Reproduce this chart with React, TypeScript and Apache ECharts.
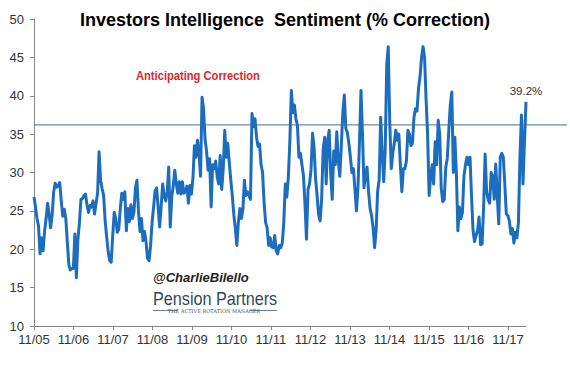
import React, { useEffect, useRef } from "react";
import * as echarts from "echarts";

// Sampled series (every 14 days from 2005-11-01), % of advisors expecting a correction
const START_UTC = Date.UTC(2005, 10, 1);
const STEP_DAYS = 14;
const correctionPct: number[] = [
  26.8, 25.5, 24.0, 23.0, 19.4, 21.5, 19.8, 22.4, 24.0, 26.0,
  24.5, 22.8, 24.5, 27.5, 28.6, 28.1, 28.3, 28.7, 26.3, 24.3,
  25.2, 24.0, 21.0, 18.0, 17.3, 17.5, 17.5, 22.0, 16.3, 21.3,
  23.4, 26.5, 26.6, 27.0, 27.2, 25.8, 24.8, 25.7, 25.5, 26.3,
  24.6, 26.0, 27.3, 32.7, 29.0, 27.9, 27.0, 23.7, 21.6, 19.7,
  18.5, 18.3, 21.8, 24.8, 24.0, 22.2, 22.6, 25.3, 27.3, 26.5,
  27.5, 22.4, 25.3, 23.6, 25.8, 24.0, 24.8, 28.0, 29.0, 25.0,
  22.3, 24.0, 21.1, 22.3, 21.0, 18.8, 18.5, 20.5, 23.5, 25.5,
  27.6, 28.0, 25.5, 22.9, 25.6, 28.5, 27.0, 26.3, 27.5, 30.7,
  22.9, 26.8, 28.3, 30.3, 28.5, 27.3, 28.8, 27.2, 28.8, 27.3,
  27.5, 28.2, 26.0, 28.3, 27.2, 29.3, 33.5, 32.0, 34.2, 32.5,
  29.5, 39.8, 38.3, 34.3, 32.8, 30.3, 31.8, 25.5, 31.0, 30.5,
  31.5, 29.5, 28.5, 32.2, 27.8, 30.5, 35.5, 32.0, 33.8, 31.3,
  29.0, 27.0, 24.5, 22.7, 20.5, 23.5, 25.3, 24.0, 25.2, 29.0,
  27.0, 27.5, 27.0, 26.5, 37.7, 36.0, 37.0, 34.6, 33.4, 33.7,
  31.0, 30.0, 26.0, 23.5, 22.8, 20.5, 21.5, 20.3, 20.2, 21.8,
  19.8, 19.4, 20.5, 20.2, 20.8, 23.5, 28.5, 26.8, 29.4, 34.0,
  40.7, 37.8, 38.8, 37.0, 36.2, 32.0, 32.5, 31.0, 29.6, 25.8,
  21.3, 27.8, 28.5, 30.4, 35.1, 33.3, 29.2, 27.0, 24.5, 23.7,
  26.5, 33.0, 34.6, 28.5, 34.2, 35.5, 29.8, 26.5, 32.8, 31.0,
  35.3, 31.5, 29.5, 33.5, 37.8, 40.1, 35.7, 35.2, 33.8, 32.0,
  30.0, 30.5, 27.8, 25.0, 28.0, 34.0, 40.7, 35.0, 28.0, 29.8,
  30.7, 27.5, 25.3, 24.4, 22.8, 20.2, 22.5, 27.6, 29.0, 37.2,
  32.5, 28.8, 33.0, 44.0, 46.4, 36.5, 30.5, 32.5, 33.8, 35.5,
  34.2, 35.0, 31.0, 27.5, 30.5, 30.5, 31.5, 35.5, 35.0, 33.5,
  33.8, 37.2, 38.3, 38.0, 41.0, 42.5, 45.0, 46.4, 45.0, 39.5,
  35.0, 27.0, 29.5, 31.0, 28.5, 34.0, 31.0, 36.8, 35.0, 28.0,
  26.2, 26.5, 30.7, 31.8, 35.5, 38.8, 40.5, 30.0, 34.6, 30.0,
  22.4, 25.5, 24.0, 24.8, 29.5, 31.0, 32.0, 31.0, 32.0, 27.0,
  22.5, 21.0, 21.8, 22.4, 24.2, 20.6, 20.7, 25.5, 32.4, 27.5,
  26.5, 26.0, 30.0, 29.5, 26.5, 31.1, 27.0, 23.3, 32.0, 32.5,
  32.0, 28.5, 24.6, 24.4, 23.7, 22.0, 22.7, 20.8, 22.2, 21.5,
  23.5, 32.0, 37.5, 28.5, 34.0, 39.2,
];

const tickYears: number[] = [2005, 2006, 2007, 2008, 2009, 2010, 2011, 2012, 2013, 2014, 2015, 2016, 2017];
const Y_MIN = 10;
const Y_MAX = 50;
const Y_STEP = 5;
const THRESHOLD = 36.2;

const TITLE = "Investors Intelligence  Sentiment (% Correction)";
const ANNOTATION = "Anticipating Correction";
const HANDLE = "@CharlieBilello";
const BRAND = "Pension Partners";
const TAGLINE = "THE ACTIVE ROTATION MANAGER";

const FONT = "'Liberation Sans', Arial, sans-serif";

export default function App() {
  const ref = useRef<HTMLDivElement>(null);

  useEffect(() => {
    if (!ref.current) return;
    const chart = echarts.init(ref.current, null, { renderer: "svg" });
    const DAY = 86400000;
    const last = correctionPct.length - 1;
    const xs = correctionPct.map((_, i) => START_UTC + i * STEP_DAYS * DAY);
    const data = correctionPct.map((v, i) => [xs[i], v]);
    const ticks = tickYears.map((y) => Date.UTC(y, 10, 1));

    chart.setOption({
      animation: false,
      backgroundColor: "#fff",
      grid: { left: 34, right: 44, top: 19, bottom: 45, containLabel: false, outerBoundsMode: "none" },
      xAxis: {
        type: "value",
        min: START_UTC,
        max: xs[last],
        axisLine: { show: true, lineStyle: { color: "#868686", width: 1 } },
        axisTick: { show: true, length: 4, customValues: ticks, lineStyle: { color: "#868686" } },
        axisLabel: {
          customValues: ticks,
          margin: 7,
          fontSize: 13,
          fontFamily: FONT,
          color: "#333",
          formatter: (v: number) => {
            const d = new Date(v);
            const mm = String(d.getUTCMonth() + 1).padStart(2, "0");
            const yy = String(d.getUTCFullYear() % 100).padStart(2, "0");
            return `${mm}/${yy}`;
          },
        },
        splitLine: { show: false },
      },
      yAxis: {
        type: "value",
        min: Y_MIN,
        max: Y_MAX,
        interval: Y_STEP,
        axisLine: { show: true, lineStyle: { color: "#868686", width: 1 } },
        axisTick: { show: true, length: 4, lineStyle: { color: "#868686" } },
        axisLabel: { margin: 10, fontSize: 13, fontFamily: FONT, color: "#333" },
        splitLine: { show: false },
      },
      series: [
        {
          type: "line",
          data,
          showSymbol: false,
          symbol: "none",
          lineStyle: { color: "#1c6dbd", width: 3, join: "round" },
          itemStyle: { color: "#1c6dbd" },
          markPoint: {
            silent: true,
            symbol: "circle",
            symbolSize: 0,
            itemStyle: { color: "transparent" },
            label: {
              show: true,
              position: "top",
              distance: 5,
              color: "#333",
              fontSize: 11.5,
              fontFamily: FONT,
              formatter: (p: any) => `${p.value}%`,
            },
            data: [{ coord: [xs[last], correctionPct[last]], value: correctionPct[last] }],
          },
        },
      ],
    });

    const yLine = chart.convertToPixel({ yAxisIndex: 0 }, THRESHOLD) as number;
    const xStart = chart.convertToPixel({ xAxisIndex: 0 }, START_UTC) as number;

    chart.setOption({
      graphic: [
        {
          type: "line",
          silent: true,
          shape: { x1: xStart, y1: yLine, x2: 567, y2: yLine },
          style: { stroke: "#3f6f98", lineWidth: 1 },
          z: 10,
        },
        {
          type: "text",
          x: 285,
          y: 20,
          style: {
            text: TITLE,
            fill: "#000",
            fontSize: 18,
            fontWeight: "bold",
            fontFamily: FONT,
            align: "center",
            verticalAlign: "middle",
          },
        },
        {
          type: "text",
          x: 136,
          y: 76,
          scaleX: 0.93,
          style: {
            text: ANNOTATION,
            fill: "#e0242c",
            fontSize: 12,
            fontWeight: "bold",
            fontFamily: FONT,
            align: "left",
            verticalAlign: "middle",
          },
        },
        {
          type: "text",
          x: 153,
          y: 277,
          style: {
            text: HANDLE,
            fill: "#222",
            fontSize: 13,
            fontWeight: "bold",
            fontStyle: "italic",
            fontFamily: FONT,
            align: "left",
            verticalAlign: "middle",
          },
        },
        {
          type: "text",
          x: 153,
          y: 299,
          scaleX: 0.9,
          style: {
            text: BRAND,
            fill: "#2b4a5c",
            fontSize: 18,
            fontFamily: FONT,
            align: "left",
            verticalAlign: "middle",
          },
        },
        {
          type: "line",
          shape: { x1: 153, y1: 310.5, x2: 178, y2: 310.5 },
          style: { stroke: "#6d7f8c", lineWidth: 1 },
        },
        {
          type: "line",
          shape: { x1: 250, y1: 310.5, x2: 277, y2: 310.5 },
          style: { stroke: "#6d7f8c", lineWidth: 1 },
        },
        {
          type: "text",
          x: 214,
          y: 311,
          style: {
            text: TAGLINE,
            fill: "#555",
            fontSize: 5,
            fontFamily: "'DejaVu Serif', serif",
            align: "center",
            verticalAlign: "middle",
          },
        },
      ],
    });

    return () => chart.dispose();
  }, []);

  return (
    <div
      ref={ref}
      style={{ position: "fixed", left: 0, top: 0, width: 570, height: 371, background: "#fff" }}
    />
  );
}
